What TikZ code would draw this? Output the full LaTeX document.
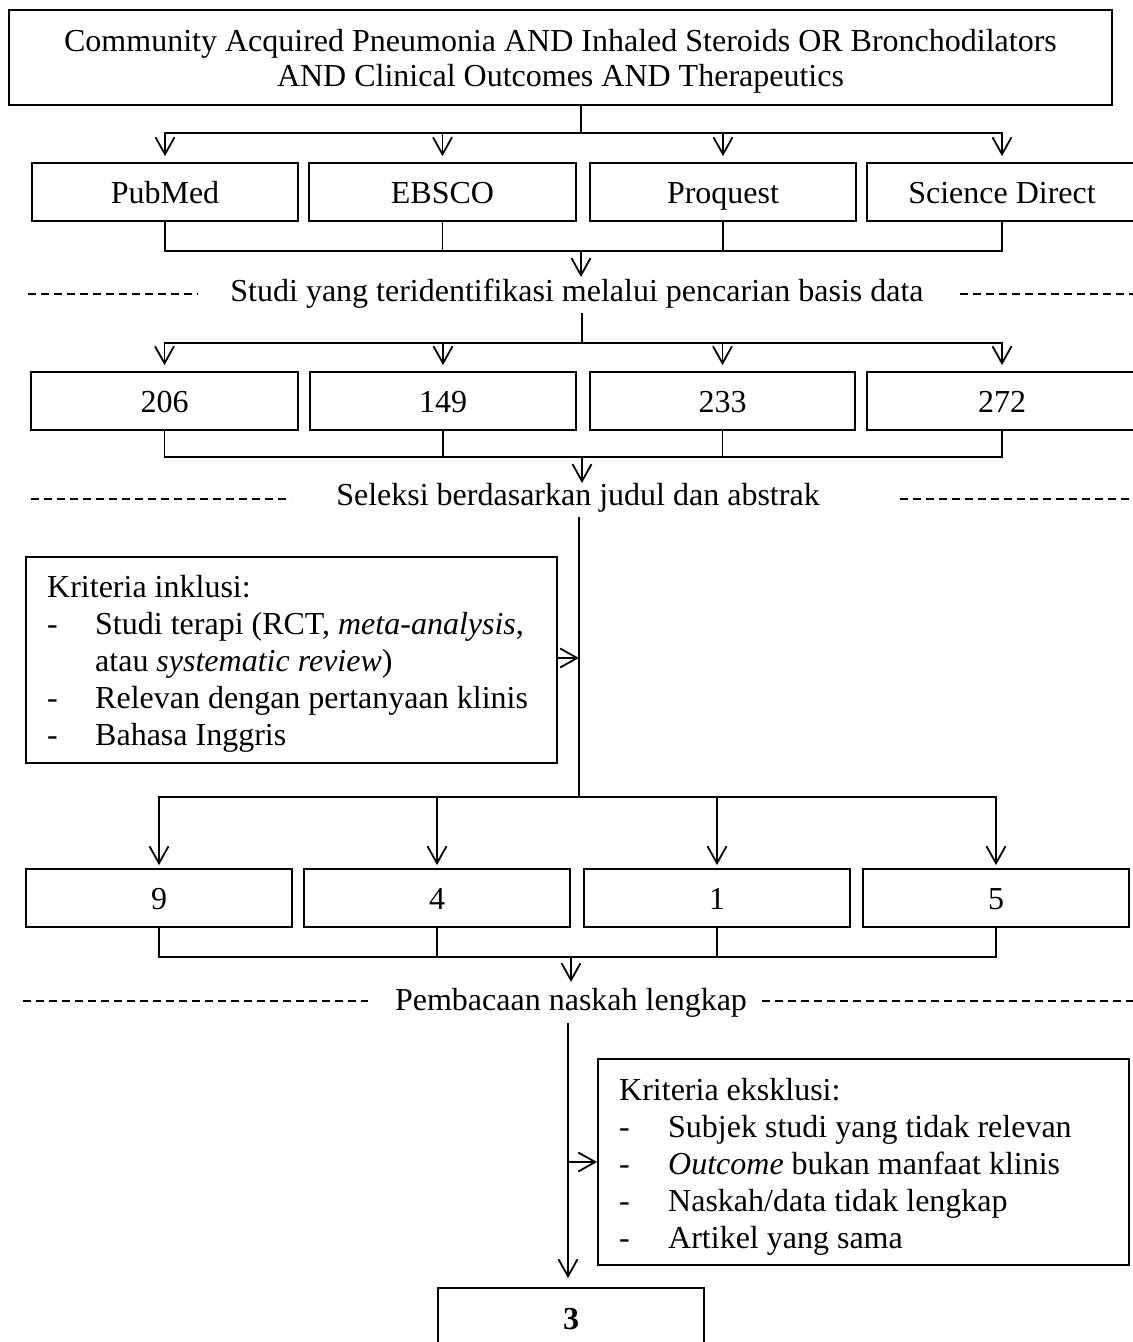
\documentclass[tikz,border=0pt]{standalone}
\usepackage{fontspec}
\setmainfont{Liberation Serif}
\usetikzlibrary{arrows.meta}
\begin{document}
\begin{tikzpicture}[x=1pt,y=-1pt,
  box/.style={draw, line width=1.8pt, inner sep=0pt, minimum height=58pt, text height=25pt, text depth=3pt, font=\fontsize{32}{37}\selectfont},
  ln/.style={line width=1.8pt},
  arr/.style={line width=1.8pt, -{Straight Barb[length=17pt,width=19pt,line width=1.8pt]}},
  dsh/.style={line width=1.4pt, dash pattern=on 8pt off 5pt},
  lbl/.style={font=\fontsize{32}{37}\selectfont, inner sep=0pt},
  txt/.style={font=\fontsize{32}{37}\selectfont, inner sep=0pt, anchor=base west}]
\clip (0,0) rectangle (1133,1342);
\fill[white] (0,0) rectangle (1133,1342);

% top query box
\node[draw, line width=1.8pt, inner sep=0pt, minimum width=1103pt, minimum height=95pt] (top) at (560.5,57.5) {};
\node[lbl, align=center, font=\fontsize{32}{35}\selectfont] (toptext) at (560.5,61)
  {Community Acquired Pneumonia AND Inhaled Steroids OR Bronchodilators\\AND Clinical Outcomes AND Therapeutics};

% row 1
\node[box, minimum width=266pt] (pub) at (165,192) {PubMed};
\node[box, minimum width=267pt] (ebs) at (442.5,192) {EBSCO};
\node[box, minimum width=266pt] (pro) at (723,192) {Proquest};
\node[box, minimum width=270pt] (sci) at (1002,192) {Science Direct};

% row 2
\node[box, minimum width=267pt] (n206) at (164.5,401) {206};
\node[box, minimum width=266pt] (n149) at (443,401) {149};
\node[box, minimum width=265pt] (n233) at (722.5,401) {233};
\node[box, minimum width=270pt] (n272) at (1002,401) {272};

% row 3
\node[box, minimum width=266pt] (n9) at (159,898) {9};
\node[box, minimum width=266pt] (n4) at (437,898) {4};
\node[box, minimum width=266pt] (n1) at (717,898) {1};
\node[box, minimum width=266pt] (n5) at (996,898) {5};

% final
\node[box, minimum width=266pt, minimum height=60pt] (fin) at (571,1318) {\textbf{3}};

% stage labels
\node[lbl] (studi) at (577,294) {Studi yang teridentifikasi melalui pencarian basis data};
\node[lbl] (sel) at (578,498) {Seleksi berdasarkan judul dan abstrak};
\node[lbl] (pem) at (571,1003) {Pembacaan naskah lengkap};

% dashed rules
\coordinate (d1a) at (28,294); \coordinate (d1b) at (198,294);
\coordinate (d1c) at (960,294); \coordinate (d1d) at (1133,294);
\coordinate (d2a) at (31,499); \coordinate (d2b) at (291,499);
\coordinate (d2c) at (900,499); \coordinate (d2d) at (1133,499);
\coordinate (d3a) at (23,1001); \coordinate (d3b) at (368,1001);
\coordinate (d3c) at (762,1001); \coordinate (d3d) at (1133,1001);
\draw[dsh] (d1a) -- (d1b); \draw[dsh] (d1c) -- (d1d);
\draw[dsh] (d2a) -- (d2b); \draw[dsh] (d2c) -- (d2d);
\draw[dsh] (d3a) -- (d3b); \draw[dsh] (d3c) -- (d3d);

% inclusion box
\node[draw, line width=1.8pt, minimum width=531pt, minimum height=206pt, inner sep=0pt] (inc) at (291.5,660) {};
\node[txt] (i0) at (47,597) {Kriteria inklusi:};
\node[txt] (i1d) at (47,634) {-};
\node[txt] (i1) at (95,634) {Studi terapi (RCT, \textit{meta-analysis},};
\node[txt] (i2) at (95,671) {atau \textit{systematic review})};
\node[txt] (i3d) at (47,708) {-};
\node[txt] (i3) at (95,708) {Relevan dengan pertanyaan klinis};
\node[txt] (i4d) at (47,745) {-};
\node[txt] (i4) at (95,745) {Bahasa Inggris};

% exclusion box
\node[draw, line width=1.8pt, minimum width=531pt, minimum height=206pt, inner sep=0pt] (exc) at (863.5,1162) {};
\node[txt] (e0) at (619,1100) {Kriteria eksklusi:};
\node[txt] (e1d) at (619,1137) {-};
\node[txt] (e1) at (668,1137) {Subjek studi yang tidak relevan};
\node[txt] (e2d) at (619,1174) {-};
\node[txt] (e2) at (668,1174) {\textit{Outcome} bukan manfaat klinis};
\node[txt] (e3d) at (619,1211) {-};
\node[txt] (e3) at (668,1211) {Naskah/data tidak lengkap};
\node[txt] (e4d) at (619,1248) {-};
\node[txt] (e4) at (668,1248) {Artikel yang sama};

% junctions
\coordinate (j1) at (581,133);
\coordinate (j2) at (581,251);
\coordinate (s1) at (582,313);
\coordinate (j3) at (582,343);
\coordinate (j4) at (582,457);
\coordinate (s2) at (579,517);
\coordinate (j5) at (579,797);
\coordinate (j6) at (571,957);
\coordinate (s3) at (568,1023);

% top -> row 1
\draw[ln] (top.south -| j1) -- (j1);
\foreach \b in {pub,ebs,pro,sci}{\draw[arr, shorten >=6pt] (j1) -| (\b.north);}
% row 1 -> studi
\foreach \b in {pub,ebs,pro,sci}{\draw[ln] (\b.south) |- (j2);}
\draw[arr] (j2) -- ++(0,26);
% studi -> row 2
\draw[ln] (s1) -- (j3);
\foreach \b in {n206,n149,n233,n272}{\draw[arr, shorten >=6pt] (j3) -| (\b.north);}
% row 2 -> seleksi
\foreach \b in {n206,n149,n233,n272}{\draw[ln] (\b.south) |- (j4);}
\draw[arr] (j4) -- ++(0,26);
% seleksi -> row 3
\draw[ln] (s2) -- (j5);
\draw[arr] (inc.east |- 0,658) -- (s2 |- 0,658);
\foreach \b in {n9,n4,n1,n5}{\draw[arr, shorten >=3pt] (j5) -| (\b.north);}
% row 3 -> pembacaan
\foreach \b in {n9,n4,n1,n5}{\draw[ln] (\b.south) |- (j6);}
\draw[arr] (j6) -- ++(0,25);
% pembacaan -> final
\draw[arr, shorten >=9pt] (s3) -- (s3 |- fin.north);
\draw[arr] (s3 |- exc.west) -- (exc.west);
\end{tikzpicture}
\end{document}
